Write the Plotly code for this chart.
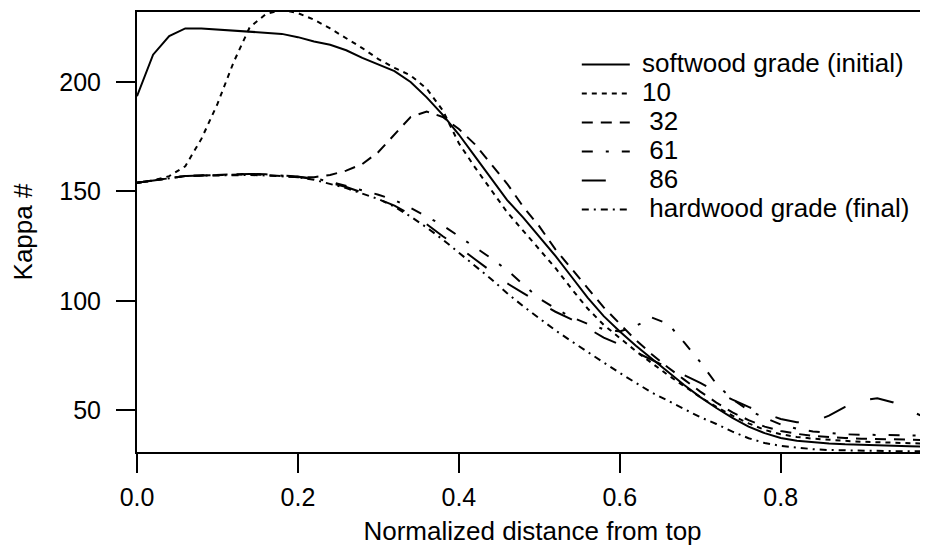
import plotly.graph_objects as go

x_pos = [round(i * 0.02, 2) for i in range(51)]

softwood = [193.5, 212.5, 221, 224.5, 224.5, 224, 223.3, 223, 222.6, 222, 220.5,
            218.5, 217, 214.5, 211, 208, 205, 200, 193, 185, 176,
            166, 156, 146, 138, 129.5, 120.5, 111, 101.5, 93, 86,
            79.5, 73.5, 67.5, 61.5, 56, 51, 46.5, 42.5, 39.5, 37.3,
            36, 35.3, 34.8, 34.4, 34.1, 33.8, 33.6, 33.5, 33.3, 33.2]

g10 = [154, 155, 157, 161.5, 174, 190, 209, 225, 231, 233, 231.5,
       228.5, 224.5, 220, 215.5, 210.5, 206.5, 203, 197, 187, 172,
       161, 150.5, 140.5, 132, 123.5, 115, 105.5, 96.5, 89, 83,
       77, 71.5, 66, 61, 56, 51.5, 47.5, 44, 41, 39,
       37.8, 37, 36.4, 36, 35.6, 35.3, 35, 34.8, 34.6, 34.5]

g32 = [154, 155, 156.3, 157, 157.3, 157.5, 157.5, 157.8, 157.5, 157, 156.5,
       156.5, 157.5, 159.5, 162.5, 168, 176, 184, 186.5, 184, 178.5,
       171.5, 162.5, 153.5, 143, 134, 123.5, 114.5, 105.5, 97, 89.5,
       82, 75.5, 69.5, 64, 58.5, 53.5, 49, 45.5, 42.5, 40.5,
       39.2, 38.3, 37.7, 37.3, 37, 36.8, 36.6, 36.4, 36.3, 36.2]

g61 = [154, 155, 156.3, 157, 157.3, 157.5, 157.8, 158, 157.8, 157.3, 156.8,
       156, 154.5, 152.5, 150.5, 148.5, 146, 142.5, 138.5, 134.5, 129.5,
       124.5, 119.5, 114, 107.5, 101, 96.5, 92.5, 89.5, 87, 86,
       88.5, 92.3, 89.5, 81, 72, 62, 55, 50, 46.5, 43.5,
       41.5, 40.3, 39.5, 39, 38.8, 38.6, 38.5, 38.5, 38.4, 38.4]

g86 = [154, 155, 156.3, 157, 157.3, 157.5, 157.8, 158, 157.8, 157.3, 156.8,
       155.5, 154, 152, 149.5, 146.5, 143.5, 139.5, 135, 129.5, 124.5,
       119, 113.5, 108, 103.5, 99, 95, 91.5, 87.5, 83.2, 80,
       76.5, 73, 69.5, 66, 62.5, 58.5, 54.8, 51.5, 48.5, 46,
       44.5, 44.7, 47.5, 51.5, 54.5, 55.5, 53.5, 50, 46.5, 44]

hardwood = [154, 155, 156.3, 157, 157.2, 157.3, 157.5, 157.5, 157.3, 157, 156.5,
            155.3, 153.5, 151.5, 149, 146.5, 143, 138.5, 133.5, 128, 122,
            116, 110, 103.5, 97.5, 92, 86.5, 81.5, 76.5, 71.8, 67,
            62.3, 58, 54.3, 50.5, 46.8, 43.7, 40.2, 37.2, 35, 33.7,
            32.8, 32.2, 31.8, 31.6, 31.4, 31.3, 31.3, 31.2, 31.2, 31.2]

series_names = [" softwood grade (initial)", " 10", "  32", "  61", "  86", "  hardwood grade (final)"]
series_values = [softwood, g10, g32, g61, g86, hardwood]
dash_styles = ["solid", "5px,5px", "11px,8px", "11px,13px,3px,13px", "24px,26px", "7px,5px,2px,5px"]

x_tickvals = [0.0, 0.2, 0.4, 0.6, 0.8]
y_tickvals = [50, 100, 150, 200]

FONT = "Arial, Liberation Sans, sans-serif"
FS = 25
FS_TEXT = 26

fig = go.Figure()
for name, vals, dash in zip(series_names, series_values, dash_styles):
    fig.add_trace(go.Scatter(
        x=x_pos, y=vals, mode="lines",
        name=f'<span style="font-size:{FS_TEXT}px">{name}</span>',
        line=dict(color="black", width=2, dash=dash),
    ))

axis_common = dict(
    showline=True, linecolor="black", linewidth=2,
    ticks="outside", ticklen=19, tickwidth=2, tickcolor="black",
    showgrid=False, zeroline=False, automargin=False,
    tickfont=dict(family=FONT, size=FS, color="black"),
)

# the page body has an 8px margin, so the figure is offset by (8, 8)
fig.update_layout(
    template="none",
    width=920, height=540,
    margin=dict(l=129, r=0, t=4, b=96, autoexpand=False),
    paper_bgcolor="white", plot_bgcolor="white",
    font=dict(family=FONT, size=FS, color="black"),
    xaxis=dict(range=[0, 0.983], tickvals=x_tickvals, tickformat=".1f",
               mirror=True, ticklabelstandoff=3,
               title=dict(text="Normalized distance from top",
                          font=dict(family=FONT, size=FS_TEXT), standoff=12),
               **axis_common),
    yaxis=dict(range=[30.9, 232], tickvals=y_tickvals,
               ticklabelstandoff=10,
               title=dict(text="Kappa #", font=dict(family=FONT, size=FS_TEXT), standoff=30),
               **axis_common),
    legend=dict(x=0.556, y=0.925, xanchor="left", yanchor="top",
                bgcolor="rgba(0,0,0,0)", borderwidth=0,
                font=dict(family=FONT, size=20, color="black"),
                itemwidth=48, tracegroupgap=0),
    showlegend=True,
)

fig.write_html("out.html")
